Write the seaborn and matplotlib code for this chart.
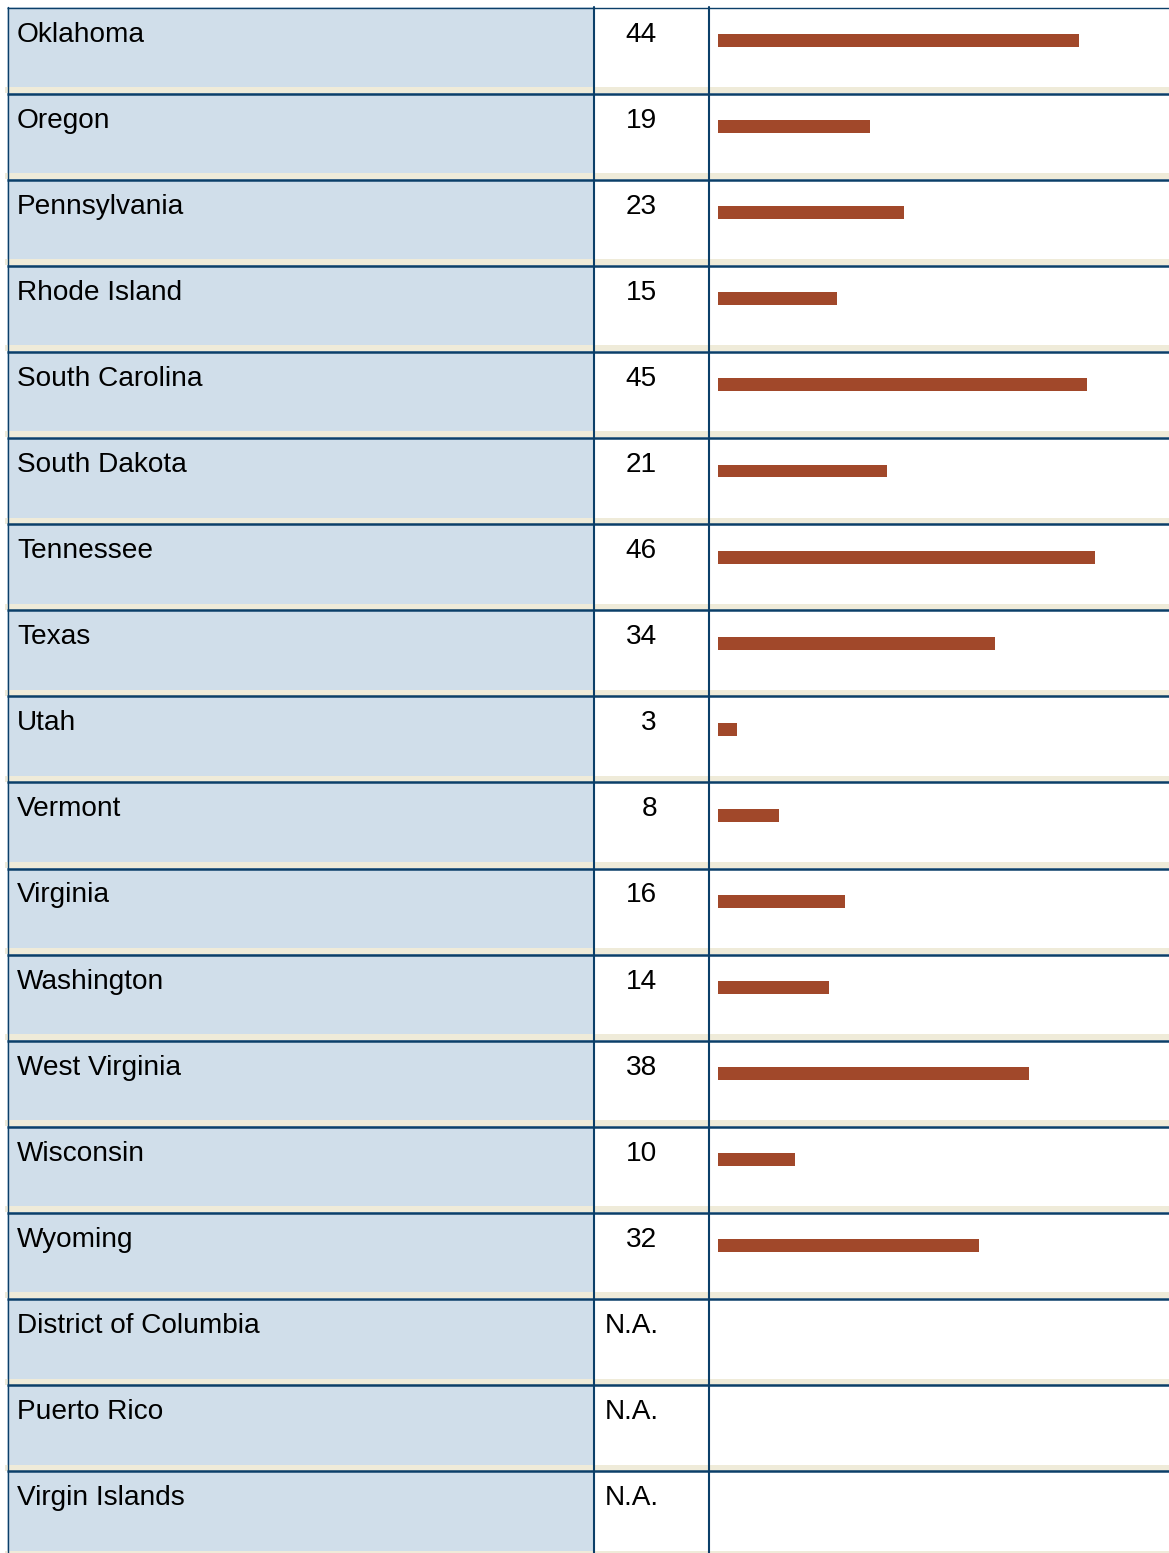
import numpy as np
import pandas as pd
import matplotlib
matplotlib.use("Agg")
import matplotlib.pyplot as plt
import seaborn as sns

# data
states = ["Oklahoma", "Oregon", "Pennsylvania", "Rhode Island", "South Carolina",
          "South Dakota", "Tennessee", "Texas", "Utah", "Vermont", "Virginia",
          "Washington", "West Virginia", "Wisconsin", "Wyoming",
          "District of Columbia", "Puerto Rico", "Virgin Islands"]
values = [44, 19, 23, 15, 45, 21, 46, 34, 3, 8, 16, 14, 38, 10, 32,
          np.nan, np.nan, np.nan]

# colours
BLUE_BG = "#D0DEEA"
BEIGE = "#EFEBD9"
LINE = "#0B3F69"
BAR = "#A1482A"

W, H = 1169, 1553
ROW_TOP = 7
ROW_H = 86.1

sns.set_theme(style="white")
plt.rcParams["font.family"] = ["Liberation Sans", "DejaVu Sans"]

fig = plt.figure(figsize=(W / 100, H / 100), dpi=100)

# table background in pixel coordinates
ax = fig.add_axes([0, 0, 1, 1])
ax.set_xlim(0, W)
ax.set_ylim(H, 0)
ax.axis("off")

for i, (name, v) in enumerate(zip(states, values)):
    top = ROW_TOP + ROW_H * i
    ax.add_patch(plt.Rectangle((7, top), 586, 80, color=BLUE_BG, lw=0))
    ax.add_patch(plt.Rectangle((5, top + 80), W, 6, color=BEIGE, lw=0))
    ax.plot([7, W], [top + 0.5, top + 0.5], color=LINE,
            lw=1.0 if i == 0 else 1.8, solid_capstyle="butt")
    ax.text(17, top + 34.5, name, fontsize=20.2, va="baseline", ha="left",
            color="black")
    if np.isnan(v):
        ax.text(605, top + 34.5, "N.A.", fontsize=20.2, va="baseline",
                ha="left", color="black")
    else:
        ax.text(657, top + 34.5, f"{v:g}", fontsize=20.2, va="baseline",
                ha="right", color="black")

ax.plot([7.5, 7.5], [ROW_TOP, H], color=LINE, lw=1.0)
ax.plot([593.5, 593.5], [ROW_TOP, H], color=LINE, lw=1.5)
ax.plot([708.5, 708.5], [ROW_TOP, H], color=LINE, lw=1.5)

# bars drawn with seaborn in an overlay axes on the bar column
df = pd.DataFrame({"state": states, "value": values})
x0, x1 = 718, W
bax = fig.add_axes([x0 / W, 0, (x1 - x0) / W, 1])
bax.patch.set_alpha(0)
sns.barplot(data=df, x="value", y="state", order=states, orient="h",
            color=BAR, errorbar=None, width=13 / ROW_H, saturation=1,
            linewidth=0, ax=bax)
px_per_unit = 8.33
zero_px = 712
bax.set_xlim((x0 - zero_px) / px_per_unit, (x1 - zero_px) / px_per_unit)
first_center = ROW_TOP + 33.5
bax.set_ylim((H - first_center) / ROW_H, (0 - first_center) / ROW_H)
bax.axis("off")

fig.savefig("out.png", dpi=100)
